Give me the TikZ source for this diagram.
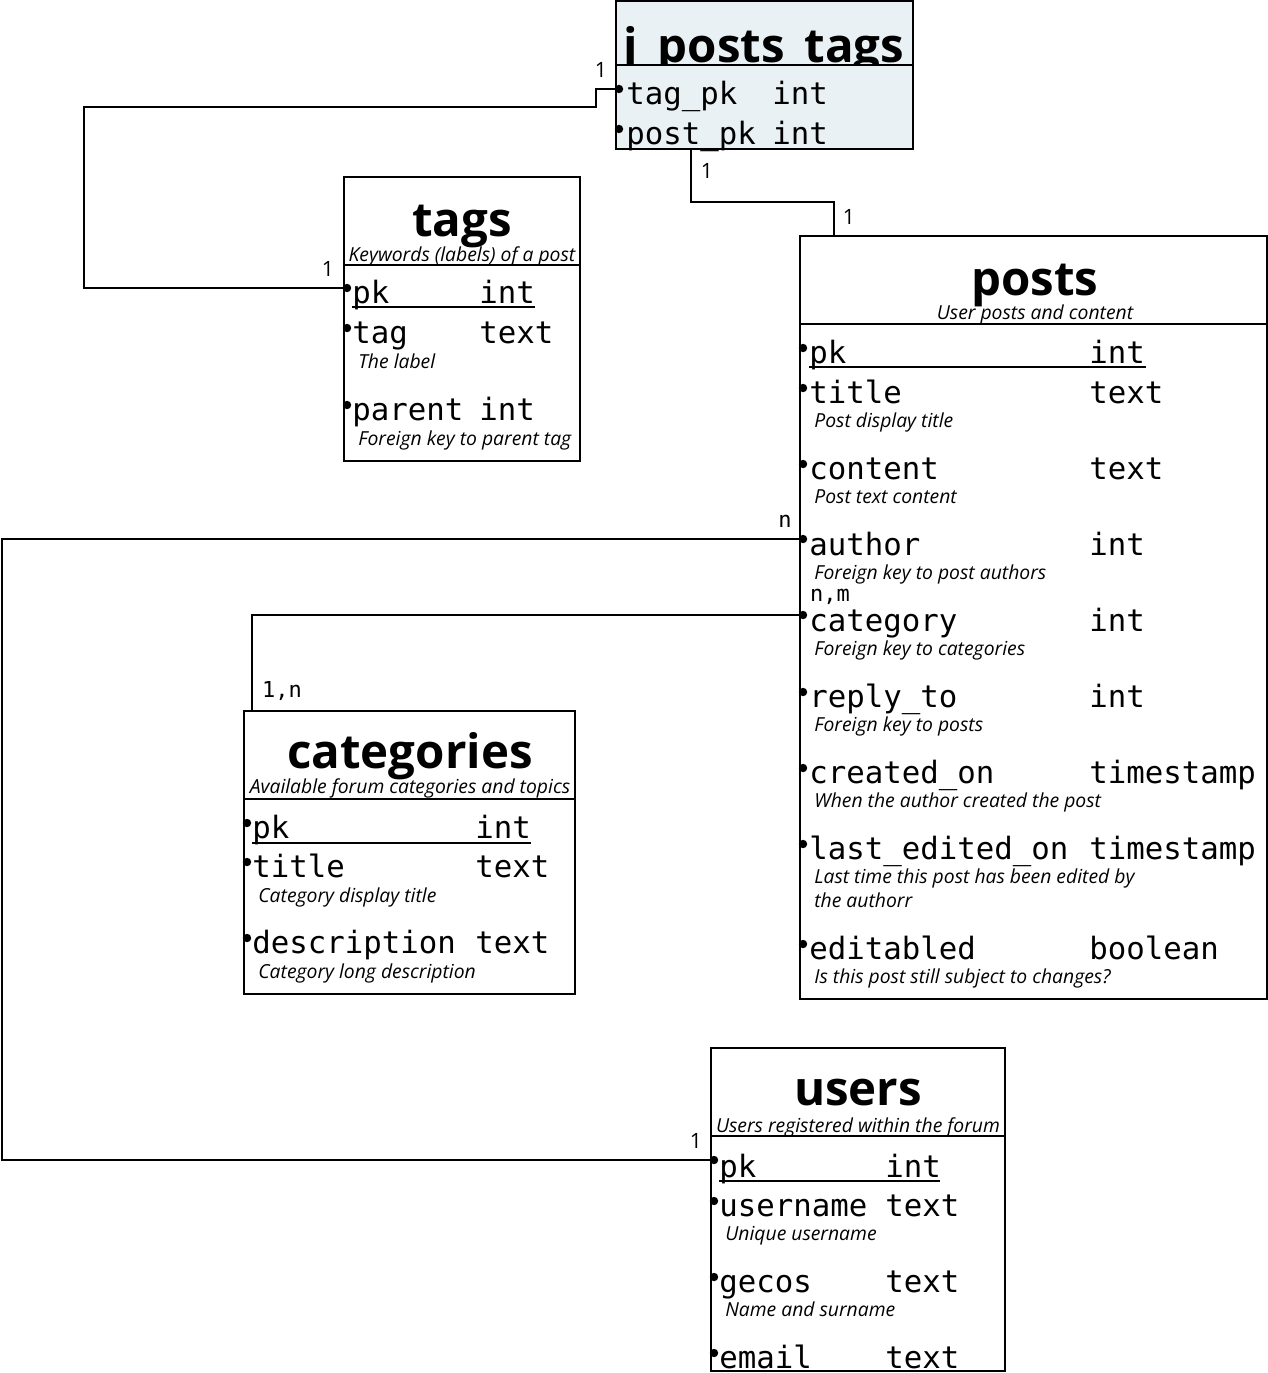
\documentclass[tikz,border=0pt]{standalone}
\usepackage{fontspec}
\setmainfont{Open Sans}
\setmonofont{DejaVu Sans Mono}
\definecolor{jtfill}{RGB}{233,241,244}
\tikzset{box/.style = {draw, line width = 1.1pt}}
\tikzset{dot/.style = {fill, circle, inner sep = 0, minimum size = 4.8pt}}
\tikzset{fld/.style = {anchor = base west, inner sep = 0, font = \fontsize{17.5}{18}\ttfamily}}
\tikzset{cmt/.style = {anchor = base west, inner sep = 0, font = \fontsize{11}{12}\itshape}}
\tikzset{ttl/.style = {anchor = base, inner sep = 0, font = \fontsize{27}{30}\bfseries}}
\tikzset{sub/.style = {anchor = base, inner sep = 0, font = \fontsize{11}{12}\itshape}}
\tikzset{card/.style = {inner sep = 0, font = \fontsize{12}{13}\selectfont}}
\tikzset{cardm/.style = {inner sep = 0, font = \fontsize{12.5}{13}\ttfamily}}
\tikzset{link/.style = {line width = 1.1pt}}
\tikzset{ul/.style = {line width = 0.8pt}}

\begin{document}
\begin{tikzpicture}[x=0.02cm, y=-0.02cm]
      \useasboundingbox (0,0) rectangle (1268,1373);

      % j_posts_tags
      \fill [jtfill] (616,1) rectangle (913,149);
      \begin{scope}
        \clip (616,1) rectangle (913,64);
        \node [ttl] (jt-name) at (764,62) {j\_posts\_tags};
      \end{scope}
      \draw [box] (616,1) rectangle (913,149);
      \draw [box] (616,65) -- (913,65);
      \node [fld] (jt-tag) at (626,104) {tag\_pk};
      \node [fld] (jt-tag-t) at (772,104) {int};
      \node [fld] (jt-post) at (626,144) {post\_pk};
      \node [fld] (jt-post-t) at (772,144) {int};
      \node [dot] (jt-tag-d) at (619,89) {};
      \node [dot] (jt-post-d) at (619,129) {};
      \coordinate (jt-out) at (691,149);

      % tags
      \draw [box] (344,177) rectangle (580,461);
      \draw [box] (344,265) -- (580,265);
      \node [ttl] (tags-name) at (462,236) {tags};
      \node [sub] (tags-sub) at (462,261) {Keywords (labels) of a post};
      \node [fld] (tags-pk) at (352,303) {pk};
      \node [fld] at (479,303) {int};
      \draw [ul] (352,307) -- (535,307);
      \node [fld] (tags-tag) at (352,343) {tag};
      \node [fld] at (479,343) {text};
      \node [cmt] at (358,368) {The label};
      \node [fld] (tags-parent) at (352,420) {parent};
      \node [fld] at (479,420) {int};
      \node [cmt] at (358,445) {Foreign key to parent tag};
      \node [dot] (tags-pk-d) at (347,288) {};
      \node [dot] at (347,328) {};
      \node [dot] at (347,405) {};

      % posts
      \draw [box] (800,236) rectangle (1267,999);
      \draw [box] (800,324) -- (1267,324);
      \node [ttl] (posts-name) at (1035,295) {posts};
      \node [sub] (posts-sub) at (1035,319) {User posts and content};
      \node [fld] (posts-pk) at (809,363) {pk};
      \node [fld] at (1089,363) {int};
      \draw [ul] (809,367) -- (1146,367);
      \node [fld] (posts-title) at (809,403) {title};
      \node [fld] at (1089,403) {text};
      \node [cmt] at (814,427) {Post display title};
      \node [fld] (posts-content) at (809,479) {content};
      \node [fld] at (1089,479) {text};
      \node [cmt] at (814,503) {Post text content};
      \node [fld] (posts-author) at (809,555) {author};
      \node [fld] at (1089,555) {int};
      \node [cmt] at (814,579) {Foreign key to post authors};
      \node [fld] (posts-category) at (809,631) {category};
      \node [fld] at (1089,631) {int};
      \node [cmt] at (814,655) {Foreign key to categories};
      \node [fld] (posts-reply) at (809,707) {reply\_to};
      \node [fld] at (1089,707) {int};
      \node [cmt] at (814,731) {Foreign key to posts};
      \node [fld] (posts-created) at (809,783) {created\_on};
      \node [fld] at (1089,783) {timestamp};
      \node [cmt] at (814,807) {When the author created the post};
      \node [fld] (posts-edited) at (809,859) {last\_edited\_on};
      \node [fld] at (1089,859) {timestamp};
      \node [cmt] at (814,883) {Last time this post has been edited by};
      \node [cmt] at (814,907) {the authorr};
      \node [fld] (posts-editabled) at (809,959) {editabled};
      \node [fld] at (1089,959) {boolean};
      \node [cmt] at (814,983) {Is this post still subject to changes?};
      \node [dot] at (803,348) {};
      \node [dot] at (803,388) {};
      \node [dot] at (803,464) {};
      \node [dot] (posts-author-d) at (803,539) {};
      \node [dot] (posts-category-d) at (803,615) {};
      \node [dot] at (803,692) {};
      \node [dot] at (803,768) {};
      \node [dot] at (803,844) {};
      \node [dot] at (803,944) {};
      \coordinate (posts-in) at (834,236);

      % categories
      \draw [box] (244,711) rectangle (575,994);
      \draw [box] (244,799) -- (575,799);
      \node [ttl] (cat-name) at (410,768) {categories};
      \node [sub] (cat-sub) at (410,793) {Available forum categories and topics};
      \node [fld] (cat-pk) at (252,838) {pk};
      \node [fld] at (475,838) {int};
      \draw [ul] (252,843) -- (531,843);
      \node [fld] (cat-title) at (252,877) {title};
      \node [fld] at (475,877) {text};
      \node [cmt] at (258,902) {Category display title};
      \node [fld] (cat-desc) at (252,953) {description};
      \node [fld] at (475,953) {text};
      \node [cmt] at (258,978) {Category long description};
      \node [dot] at (247,823) {};
      \node [dot] at (247,862) {};
      \node [dot] at (247,938) {};
      \coordinate (cat-in) at (252,711);

      % users
      \draw [box] (711,1048) rectangle (1005,1371);
      \draw [box] (711,1136) -- (1005,1136);
      \node [ttl] (users-name) at (858,1105) {users};
      \node [sub] (users-sub) at (858,1132) {Users registered within the forum};
      \node [fld] (users-pk) at (719,1177) {pk};
      \node [fld] at (885,1177) {int};
      \draw [ul] (719,1181) -- (940,1181);
      \node [fld] (users-username) at (719,1216) {username};
      \node [fld] at (885,1216) {text};
      \node [cmt] at (725,1240) {Unique username};
      \node [fld] (users-gecos) at (719,1292) {gecos};
      \node [fld] at (885,1292) {text};
      \node [cmt] at (725,1316) {Name and surname};
      \node [fld] (users-email) at (719,1368) {email};
      \node [fld] at (885,1368) {text};
      \node [dot] (users-pk-d) at (714,1160) {};
      \node [dot] at (714,1201) {};
      \node [dot] at (714,1277) {};
      \node [dot] at (714,1353) {};

      % relations
      \draw [link] (jt-tag-d.center) -- (596,89) |- (84,107) |- (tags-pk-d.center);
      \draw [link] (jt-out) -- ++(0,53) -| (posts-in);
      \draw [link] (posts-author-d.center) -- (2,539) |- (users-pk-d.center);
      \draw [link] (posts-category-d.center) -| (cat-in);

      \node [card] at (601,70) {1};
      \node [card] at (328,269) {1};
      \node [card] at (707,171) {1};
      \node [card] at (849,217) {1};
      \node [cardm] at (785,521) {n};
      \node [card] at (696,1141) {1};
      \node [cardm] at (830,597) {n,m};
      \node [cardm] at (282,691) {1,n};
    \end{tikzpicture}
\end{document}
